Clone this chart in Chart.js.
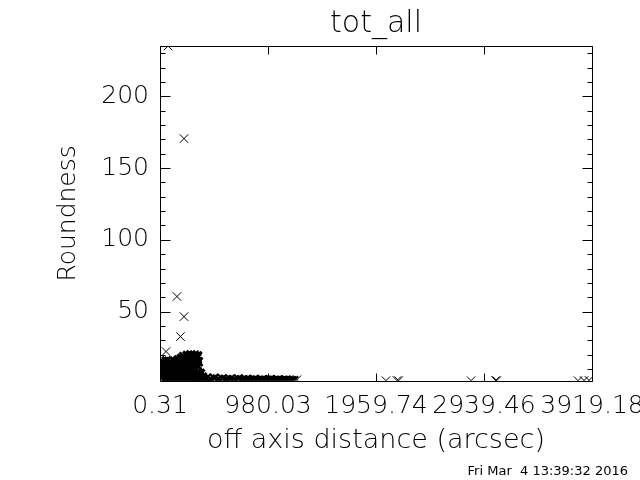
<!DOCTYPE html>
<html>
<head>
<meta charset="utf-8">
<title>tot_all</title>
<script src="https://cdn.jsdelivr.net/npm/chart.js@4/dist/chart.umd.min.js"></script>
<style>
    html, body { margin: 0; padding: 0; background: #fff; }
</style>
</head>
<body>
<canvas id="roundChart" width="640" height="480"></canvas>
<script>
// dense cluster near the axis origin
const blobX = [22, 58, 95, 131, 168,
    35, 70, 108, 145, 176,
    20, 55, 92, 128, 163,
    38, 74, 112, 150, 180,
    25, 60, 98, 135, 170,
    40, 78, 115, 152, 185,
    215, 248, 280, 312, 340,
    195, 228, 262, 298, 333,
    210, 246, 283, 320, 347,
    200, 235, 270, 305, 338,
    212, 250, 280,
    198, 233, 268, 304, 342, 365,
    215, 252, 288, 325, 360, 385,
    205, 242, 278, 315, 352, 388];
const blobY = [15.3, 15.6, 15.1, 15.4, 16.2,
    12.6, 12.4, 12.8, 12.5, 12.7,
    10.1, 9.9, 10.3, 10.0, 10.2,
    7.4, 7.2, 7.6, 7.3, 7.5,
    4.8, 4.6, 5.0, 4.7, 4.9,
    2.4, 2.2, 2.6, 2.3, 2.5,
    18.6, 19.3, 19.8, 19.5, 19.0,
    17.2, 17.4, 17.8, 17.5, 17.7,
    15.0, 14.8, 15.2, 14.9, 15.1,
    12.4, 12.2, 12.6, 12.3, 12.5,
    9.8, 9.6, 10.0,
    7.2, 7.0, 7.4, 7.1, 7.3, 6.8,
    4.6, 4.4, 4.8, 4.5, 4.7, 4.3,
    2.3, 2.1, 2.5, 2.2, 2.4, 2.0];

// thin tail along the bottom
const tailX = [420, 455, 492, 528, 565, 600, 637, 672, 710, 745, 782, 818,
    855, 890, 927, 962, 1000, 1035, 1072, 1108, 1145, 1180, 1215,
    405, 438, 474, 510, 546, 583, 618, 655, 690, 728, 764, 800,
    836, 872, 908, 945, 982, 1018, 1054, 1090, 1126, 1162, 1198];
const tailY = [3.6, 3.1, 3.8, 2.9, 3.3, 2.7, 3.0, 2.6, 3.2, 2.5, 2.8, 2.4,
    2.9, 2.3, 2.6, 2.2, 2.7, 2.3, 2.5, 2.1, 2.4, 2.2, 2.0,
    2.2, 2.0, 2.4, 2.1, 2.3, 1.9, 2.2, 2.0, 2.1, 1.9, 2.2, 2.0,
    1.9, 2.1, 2.0, 1.9, 2.1, 1.9, 2.0, 1.9, 2.0, 1.9, 1.9];

// isolated points
const outX = [73, 218, 154, 218, 186, 55, 1243, 2050, 2150, 2165, 2822, 3045, 3055, 3792, 3847, 3892];
const outY = [235, 170.5, 60.5, 46.5, 32.6, 22.2, 2.6, 1.9, 2.0, 1.9, 1.9, 2.0, 1.9, 1.9, 2.0, 2.1];

const xTickValues = [0.31, 980.03, 1959.74, 2939.46, 3919.18];
const xTickLabels = ['0.31', '980.03', '1959.74', '2939.46', '3919.18'];
const yMajorTicks = [50, 100, 150, 200];
const yMinorTicks = [10, 20, 30, 40, 60, 70, 80, 90, 110, 120, 130, 140,
    160, 170, 180, 190, 210, 220, 230];

const FONT = 'DejaVu Sans';
const WEIGHT = 200;

function toPoints(xs, ys) {
    return xs.map((x, i) => ({ x: x, y: ys[i] }));
}

// IDL style box: frame with inward ticks on every side
const boxAxes = {
    id: 'boxAxes',
    afterDatasetsDraw(chart) {
        const { ctx, chartArea: a, scales: { x, y } } = chart;
        const L = Math.round(a.left) + 0.5;
        const R = Math.round(a.right) + 0.5;
        const T = Math.round(a.top) + 0.5;
        const B = Math.round(a.bottom) + 0.5;
        ctx.save();
        ctx.strokeStyle = '#000';
        ctx.lineWidth = 1;
        ctx.beginPath();
        ctx.rect(L, T, R - L, B - T);
        const yTick = (v, len) => {
            const py = Math.round(y.getPixelForValue(v)) + 0.5;
            ctx.moveTo(L, py); ctx.lineTo(L + len, py);
            ctx.moveTo(R, py); ctx.lineTo(R - len, py);
        };
        yMajorTicks.forEach(v => yTick(v, 10));
        yMinorTicks.forEach(v => yTick(v, 5));
        xTickValues.forEach(v => {
            const px = Math.round(x.getPixelForValue(v)) + 0.5;
            ctx.moveTo(px, B); ctx.lineTo(px, B - 8);
            ctx.moveTo(px, T); ctx.lineTo(px, T + 8);
        });
        ctx.stroke();
        ctx.restore();
    }
};

const marker = {
    type: 'scatter',
    pointStyle: 'crossRot',
    borderColor: '#000',
    backgroundColor: '#000',
    pointRadius: 6,
    pointHoverRadius: 6,
    clip: 0
};

new Chart(document.getElementById('roundChart'), {
    type: 'scatter',
    data: {
        datasets: [
            { ...marker, label: 'cluster', data: toPoints(blobX, blobY), borderWidth: 3 },
            { ...marker, label: 'tail', data: toPoints(tailX, tailY), borderWidth: 2 },
            { ...marker, label: 'points', data: toPoints(outX, outY), borderWidth: 1 }
        ]
    },
    options: {
        responsive: false,
        animation: false,
        events: [],
        layout: { padding: { left: 0, right: 12, top: 0, bottom: 0 } },
        scales: {
            x: {
                type: 'linear',
                min: 0.31,
                max: 3919.18,
                afterBuildTicks: s => { s.ticks = xTickValues.map(v => ({ value: v })); },
                afterFit: s => {
                    s.height = 80.6;
                    s.paddingLeft = 0;
                    s.paddingRight = 48;
                },
                grid: { display: false, drawTicks: false },
                border: { display: false },
                ticks: {
                    autoSkip: false,
                    maxRotation: 0,
                    minRotation: 0,
                    padding: 11,
                    color: '#000',
                    font: { family: FONT, size: 25, weight: WEIGHT },
                    callback: (v, i) => xTickLabels[i]
                },
                title: {
                    display: true,
                    text: 'off axis distance (arcsec)',
                    color: '#000',
                    font: { family: FONT, size: 27, weight: WEIGHT },
                    padding: { top: 0, bottom: 4 }
                }
            },
            y: {
                type: 'linear',
                min: 1.8,
                max: 235,
                afterBuildTicks: s => { s.ticks = yMajorTicks.map(v => ({ value: v })); },
                afterFit: s => {
                    s.width = 160;
                    s.paddingTop = 0;
                    s.paddingBottom = 0;
                },
                grid: { display: false, drawTicks: false },
                border: { display: false },
                ticks: {
                    padding: 11,
                    color: '#000',
                    font: { family: FONT, size: 25, weight: WEIGHT },
                    callback: v => String(v)
                },
                title: {
                    display: true,
                    text: 'Roundness',
                    color: '#000',
                    font: { family: FONT, size: 25, weight: WEIGHT },
                    padding: { top: 53, bottom: 0 }
                }
            }
        },
        plugins: {
            legend: { display: false },
            tooltip: { enabled: false },
            title: {
                display: true,
                text: 'tot_all',
                fullSize: false,
                color: '#000',
                font: { family: FONT, size: 30, weight: WEIGHT },
                padding: { top: 6, bottom: 4 }
            },
            subtitle: {
                display: true,
                text: 'Fri Mar  4 13:39:32 2016',
                position: 'bottom',
                align: 'end',
                color: '#000',
                font: { family: FONT, size: 13, weight: 'normal' },
                padding: { top: 2, bottom: 1 }
            }
        }
    },
    plugins: [boxAxes]
});
</script>
</body>
</html>
